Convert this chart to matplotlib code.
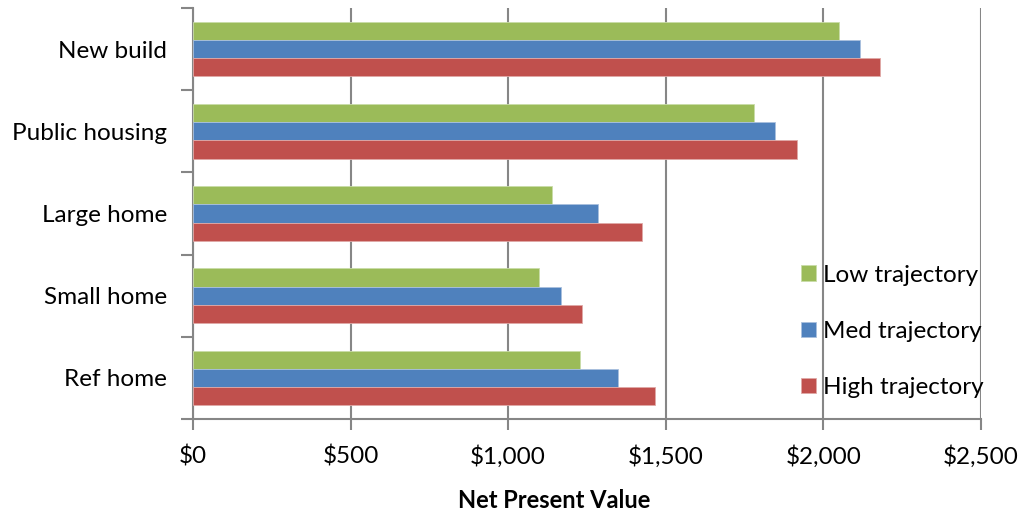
import matplotlib.pyplot as plt
import numpy as np
from matplotlib.ticker import FuncFormatter

plt.rcParams['font.family'] = ['Lato', 'DejaVu Sans']

homes = ['New build', 'Public housing', 'Large home', 'Small home', 'Ref home']
low = [2049, 1779, 1139, 1098, 1227]
med = [2116, 1848, 1286, 1168, 1347]
high = [2181, 1915, 1426, 1235, 1465]

green = '#9BBB59'
blue = '#4F81BD'
red = '#C0504D'
grey = '#868686'

fig = plt.figure(figsize=(10.22, 5.14), dpi=100)
ax = fig.add_axes([0.1888, 0.1848, 0.7711, 0.7996])

y = np.arange(len(homes))
h = 0.222
ax.barh(y - h, low, height=h, color=green, edgecolor='#c9dca8', linewidth=0.6, label='Low trajectory', zorder=3)
ax.barh(y, med, height=h, color=blue, edgecolor='#a9c0de', linewidth=0.6, label='Med trajectory', zorder=3)
ax.barh(y + h, high, height=h, color=red, edgecolor='#e0a9a7', linewidth=0.6, label='High trajectory', zorder=3)

ax.set_xlim(0, 2500)
ax.set_ylim(len(homes) - 0.5, -0.5)
ax.set_xticks(np.arange(0, 2501, 500))
ax.xaxis.set_major_formatter(FuncFormatter(lambda v, p: '${:,.0f}'.format(v)))
ax.set_yticks(y)
ax.set_yticklabels(homes)
ax.set_yticks(np.arange(-0.5, len(homes)), minor=True)

ax.grid(axis='x', color=grey, linewidth=1.5, zorder=0)
for s in ['top', 'right']:
    ax.spines[s].set_visible(False)
for s in ['left', 'bottom']:
    ax.spines[s].set_color(grey)
    ax.spines[s].set_linewidth(1.5)

ax.tick_params(axis='y', which='major', length=0, pad=18.5, labelsize=17.5)
ax.tick_params(axis='y', which='minor', length=9, width=1.5, color=grey)
ax.tick_params(axis='x', length=8, width=1.5, color=grey, pad=11, labelsize=17.5)

ax.set_xlabel('Net Present Value', fontsize=17, fontweight='bold')
ax.xaxis.set_label_coords(0.459, -0.17)

ax.legend(loc='upper left', bbox_to_anchor=(0.784, 0.485), bbox_transform=fig.transFigure,
          frameon=False, fontsize=17.5, handlelength=0.6, handleheight=0.6,
          handletextpad=0.3, labelspacing=1.45, borderaxespad=0, borderpad=0)

fig.savefig('out.png', dpi=100)
